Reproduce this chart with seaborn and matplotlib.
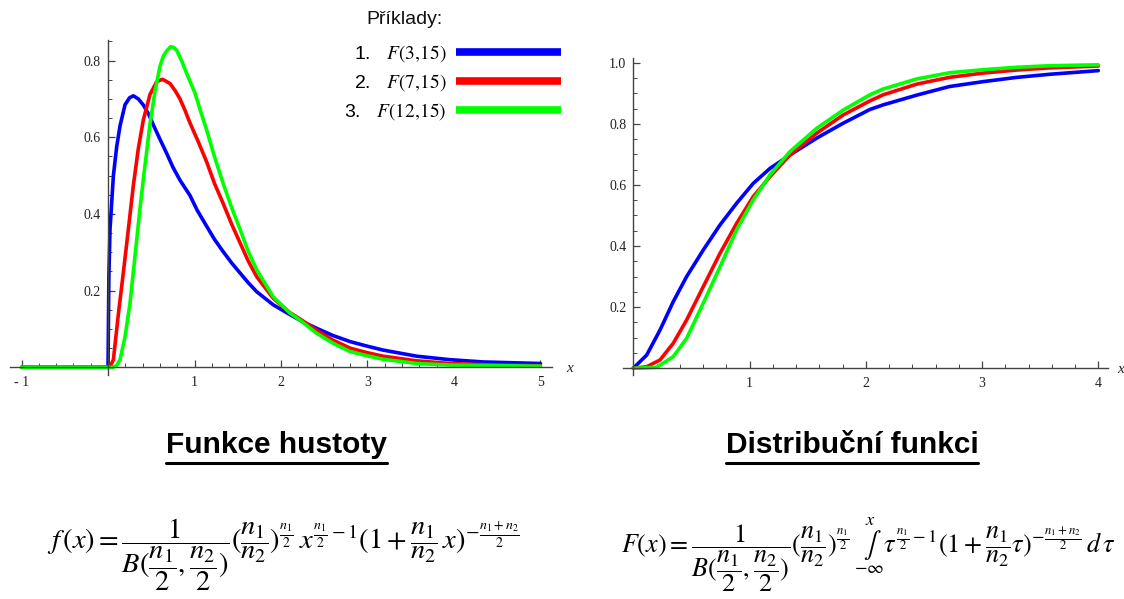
import numpy as np
import pandas as pd
import seaborn as sns
import matplotlib
matplotlib.use("Agg")
import matplotlib.pyplot as plt
from matplotlib.ticker import FixedLocator, MultipleLocator, FixedFormatter
from matplotlib.lines import Line2D

# ---------------- data ----------------
series_names = ["1.", "2.", "3."]
series_labels = [r"$F\mathrm{(3{,}15)}$", r"$F\mathrm{(7{,}15)}$", r"$F\mathrm{(12{,}15)}$"]
series_colors = ["#0000FF", "#FF0000", "#00FF00"]

# density f(x)
pdf_blue_x = [-1, 0, 0.0, 0.01, 0.023, 0.062, 0.10, 0.139, 0.197, 0.25, 0.293, 0.35, 0.408, 0.47, 0.524, 0.60,
              0.678, 0.75, 0.832, 0.948, 1.03, 1.14, 1.23, 1.33, 1.43, 1.53, 1.62, 1.72, 1.91, 2.10, 2.25, 2.41,
              2.60, 2.80, 3.00, 3.18, 3.57, 3.95, 4.34, 5.0]
pdf_blue_y = [0, 0, 0.0, 0.24, 0.36, 0.50, 0.575, 0.63, 0.685, 0.703, 0.708, 0.70, 0.684, 0.66, 0.632, 0.595,
              0.558, 0.522, 0.488, 0.448, 0.41, 0.368, 0.334, 0.302, 0.272, 0.245, 0.221, 0.197, 0.163, 0.138, 0.119, 0.102,
              0.083, 0.067, 0.055, 0.045, 0.029, 0.020, 0.014, 0.010]

pdf_red_x = [-1, 0.02, 0.062, 0.12, 0.176, 0.234, 0.293, 0.35, 0.408, 0.486, 0.563, 0.631, 0.717, 0.78, 0.832,
             0.89, 0.948, 1.04, 1.14, 1.23, 1.33, 1.43, 1.53, 1.62, 1.72, 1.91, 2.10, 2.22, 2.41, 2.60, 2.80, 3.00,
             3.18, 3.57, 3.95, 4.34, 5.0]
pdf_red_y = [0, 0, 0.02, 0.14, 0.245, 0.358, 0.475, 0.57, 0.645, 0.712, 0.745, 0.751, 0.74, 0.72, 0.70,
             0.67, 0.637, 0.59, 0.536, 0.48, 0.428, 0.373, 0.323, 0.278, 0.236, 0.180, 0.143, 0.126, 0.097, 0.071, 0.050, 0.038,
             0.029, 0.017, 0.010, 0.007, 0.004]

pdf_green_x = [-1, 0.06, 0.10, 0.139, 0.197, 0.254, 0.312, 0.37, 0.408, 0.486, 0.543, 0.601, 0.64, 0.678, 0.724,
               0.76, 0.793, 0.85, 0.908, 1.006, 1.07, 1.14, 1.23, 1.33, 1.43, 1.53, 1.62, 1.72, 1.91, 2.10, 2.22,
               2.41, 2.60, 2.80, 3.00, 3.18, 3.57, 3.95, 5.0]
pdf_green_y = [0, 0, 0.005, 0.02, 0.08, 0.167, 0.29, 0.415, 0.49, 0.636, 0.72, 0.785, 0.812, 0.825, 0.836,
               0.834, 0.827, 0.80, 0.767, 0.715, 0.668, 0.619, 0.55, 0.48, 0.416, 0.358, 0.303, 0.254, 0.184, 0.142, 0.123,
               0.089, 0.063, 0.041, 0.030, 0.021, 0.010, 0.006, 0.003]

# distribution F(x)
cdf_blue_x = [0, 0.115, 0.23, 0.344, 0.459, 0.602, 0.746, 0.889, 1.032, 1.176, 1.348, 1.577, 1.806, 2.036,
              2.15, 2.44, 2.72, 3.01, 3.30, 3.58, 4.0]
cdf_blue_y = [0, 0.043, 0.125, 0.218, 0.300, 0.387, 0.469, 0.540, 0.605, 0.654, 0.698, 0.753, 0.802, 0.847,
              0.862, 0.894, 0.922, 0.938, 0.952, 0.962, 0.974]

cdf_red_x = [0, 0.115, 0.23, 0.344, 0.459, 0.602, 0.746, 0.889, 1.032, 1.176, 1.348, 1.577, 1.806, 2.036,
             2.15, 2.44, 2.72, 3.01, 3.30, 3.58, 4.0]
cdf_red_y = [0, 0.005, 0.027, 0.082, 0.158, 0.267, 0.376, 0.474, 0.562, 0.627, 0.698, 0.769, 0.829, 0.875,
             0.895, 0.930, 0.952, 0.966, 0.976, 0.983, 0.989]

cdf_green_x = [0, 0.201, 0.344, 0.459, 0.602, 0.746, 0.889, 1.032, 1.176, 1.348, 1.577, 1.806, 2.036,
               2.15, 2.44, 2.72, 3.01, 3.30, 3.58, 4.0]
cdf_green_y = [0, 0.003, 0.038, 0.098, 0.213, 0.332, 0.453, 0.551, 0.633, 0.709, 0.785, 0.845, 0.895,
               0.914, 0.947, 0.967, 0.977, 0.985, 0.990, 0.993]

left_xticks = [-1, 1, 2, 3, 4, 5]
left_xticklabels = ["- 1", "1", "2", "3", "4", "5"]
left_yticks = [0.2, 0.4, 0.6, 0.8]
left_yticklabels = ["0.2", "0.4", "0.6", "0.8"]
right_xticks = [1, 2, 3, 4]
right_xticklabels = ["1", "2", "3", "4"]
right_yticks = [0.2, 0.4, 0.6, 0.8, 1.0]
right_yticklabels = ["0.2", "0.4", "0.6", "0.8", "1.0"]

title_left = "Funkce hustoty"
title_right = "Distribuční funkci"
legend_title = "Příklady:"
formula_left = (r"$f\,(x) = \dfrac{1}{B(\dfrac{n_1}{2},\dfrac{n_2}{2})}(\dfrac{n_1}{n_2})^{\frac{n_1}{2}}"
                r"\,x^{\frac{n_1}{2}-1}(1+\dfrac{n_1}{n_2}\,x)^{-\frac{n_1+n_2}{2}}$")
formula_right = (r"$F(x) = \dfrac{1}{B(\dfrac{n_1}{2},\dfrac{n_2}{2})}(\dfrac{n_1}{n_2})^{\frac{n_1}{2}}"
                 r"\,\underset{-\infty}{\overset{x}{\int}}\tau^{\frac{n_1}{2}-1}(1+\dfrac{n_1}{n_2}\tau)^{-\frac{n_1+n_2}{2}}\,d\,\tau$")

# ---------------- build frames ----------------
def frame(xs, ys, names):
    rows = []
    for x, y, n in zip(xs, ys, names):
        rows.append(pd.DataFrame({"x": x, "y": y, "series": n}))
    return pd.concat(rows, ignore_index=True)

pdf_df = frame([pdf_blue_x, pdf_red_x, pdf_green_x], [pdf_blue_y, pdf_red_y, pdf_green_y], series_names)
cdf_df = frame([cdf_blue_x, cdf_red_x, cdf_green_x], [cdf_blue_y, cdf_red_y, cdf_green_y], series_names)

# ---------------- style ----------------
sns.set_theme(style="white")
plt.rcParams["font.family"] = ["Liberation Sans", "DejaVu Sans"]
plt.rcParams["mathtext.fontset"] = "stix"
plt.rcParams["text.color"] = "black"

W, H = 1124, 599
fig = plt.figure(figsize=(W / 100, H / 100), dpi=100)

def px_axes(x0, x1, y_top, y_bot):
    return [x0 / W, 1 - y_bot / H, (x1 - x0) / W, (y_bot - y_top) / H]

ax1 = fig.add_axes(px_axes(10.3, 551.7, 40.2, 375.0))
ax2 = fig.add_axes(px_axes(622.8, 1107.6, 58.1, 375.3))

palette = dict(zip(series_names, series_colors))

sns.lineplot(data=pdf_df, x="x", y="y", hue="series", palette=palette, estimator=None, sort=False,
             units="series", lw=2.6, ax=ax1, legend=False)
sns.lineplot(data=cdf_df, x="x", y="y", hue="series", palette=palette, estimator=None, sort=False,
             units="series", lw=2.6, ax=ax2, legend=False)

ax1.set_xlim(-1.13, 5.13)
ax1.set_ylim(-0.02, 0.853)
ax2.set_xlim(-0.09, 4.08)
ax2.set_ylim(-0.023, 1.015)

for ax, xt, xtl, yt, ytl in [(ax1, left_xticks, left_xticklabels, left_yticks, left_yticklabels),
                             (ax2, right_xticks, right_xticklabels, right_yticks, right_yticklabels)]:
    ax.set_xlabel("")
    ax.set_ylabel("")
    ax.spines["left"].set_position(("data", 0))
    ax.spines["bottom"].set_position(("data", 0))
    ax.spines["top"].set_visible(False)
    ax.spines["right"].set_visible(False)
    for s in ("left", "bottom"):
        ax.spines[s].set_linewidth(1.0)
        ax.spines[s].set_color("#444444")
    ax.xaxis.set_major_locator(FixedLocator(xt))
    ax.xaxis.set_major_formatter(FixedFormatter(xtl))
    ax.yaxis.set_major_locator(FixedLocator(yt))
    ax.yaxis.set_major_formatter(FixedFormatter(ytl))
    ax.xaxis.set_minor_locator(MultipleLocator(0.2))
    ax.yaxis.set_minor_locator(MultipleLocator(0.05))
    ax.tick_params(axis="both", which="major", direction="in", length=5, width=0.9, color="#444444",
                   labelsize=10, labelcolor="#222222")
    ax.tick_params(axis="both", which="minor", direction="in", length=3, width=0.7, color="#444444")
    ax.tick_params(axis="x", which="major", pad=6)
    ax.tick_params(axis="y", which="major", pad=5)
    ax.tick_params(left=True, bottom=True, which="both")
    for lab in ax.get_xticklabels() + ax.get_yticklabels():
        lab.set_fontfamily("Liberation Serif")
    ax.patch.set_alpha(0)

ax1.text(5.30, -0.003, "x", transform=ax1.transData, fontsize=11, style="italic",
         family="Liberation Serif", color="#222222", ha="left", va="center", clip_on=False)
ax2.text(4.16, -0.003, "x", transform=ax2.transData, fontsize=11, style="italic",
         family="Liberation Serif", color="#222222", ha="left", va="center", clip_on=False)

# legend
handles = ax1.get_lines()[:3]
labels = [f"{n}   {l}" for n, l in zip(series_names, series_labels)]
leg = ax1.legend(handles, labels, markerfirst=False, frameon=False, fontsize=14,
                 handlelength=5.4, handletextpad=0.5, labelspacing=0.42, borderpad=0,
                 borderaxespad=0, loc="upper left", bbox_to_anchor=(344 / W, 1 - 43 / H),
                 bbox_transform=fig.transFigure)
for ln in leg.get_lines():
    ln.set_linewidth(5.5)
    ln.set_solid_capstyle("butt")
fig.text(404.5 / W, 1 - 20 / H, legend_title, fontsize=14, ha="center", va="center", color="#111111")

# titles
t1 = fig.text(276 / W, 1 - 445 / H, title_left, fontsize=21.5, fontweight="bold", ha="center", va="center")
t2 = fig.text(852 / W, 1 - 445 / H, title_right, fontsize=21.5, fontweight="bold", ha="center", va="center")

# formulas
fig.text(283 / W, 1 - 555 / H, formula_left, fontsize=20.5, ha="center", va="center")
fig.text(868 / W, 1 - 555 / H, formula_right, fontsize=18.8, ha="center", va="center")

# underline titles
fig.canvas.draw()
r = fig.canvas.get_renderer()
for t in (t1, t2):
    bb = t.get_window_extent(renderer=r)
    yline = 1 - 462.5 / H
    fig.add_artist(Line2D([bb.x0 / W, bb.x1 / W], [yline, yline], transform=fig.transFigure,
                          color="black", lw=2.2))

fig.savefig("out.png", dpi=100)
